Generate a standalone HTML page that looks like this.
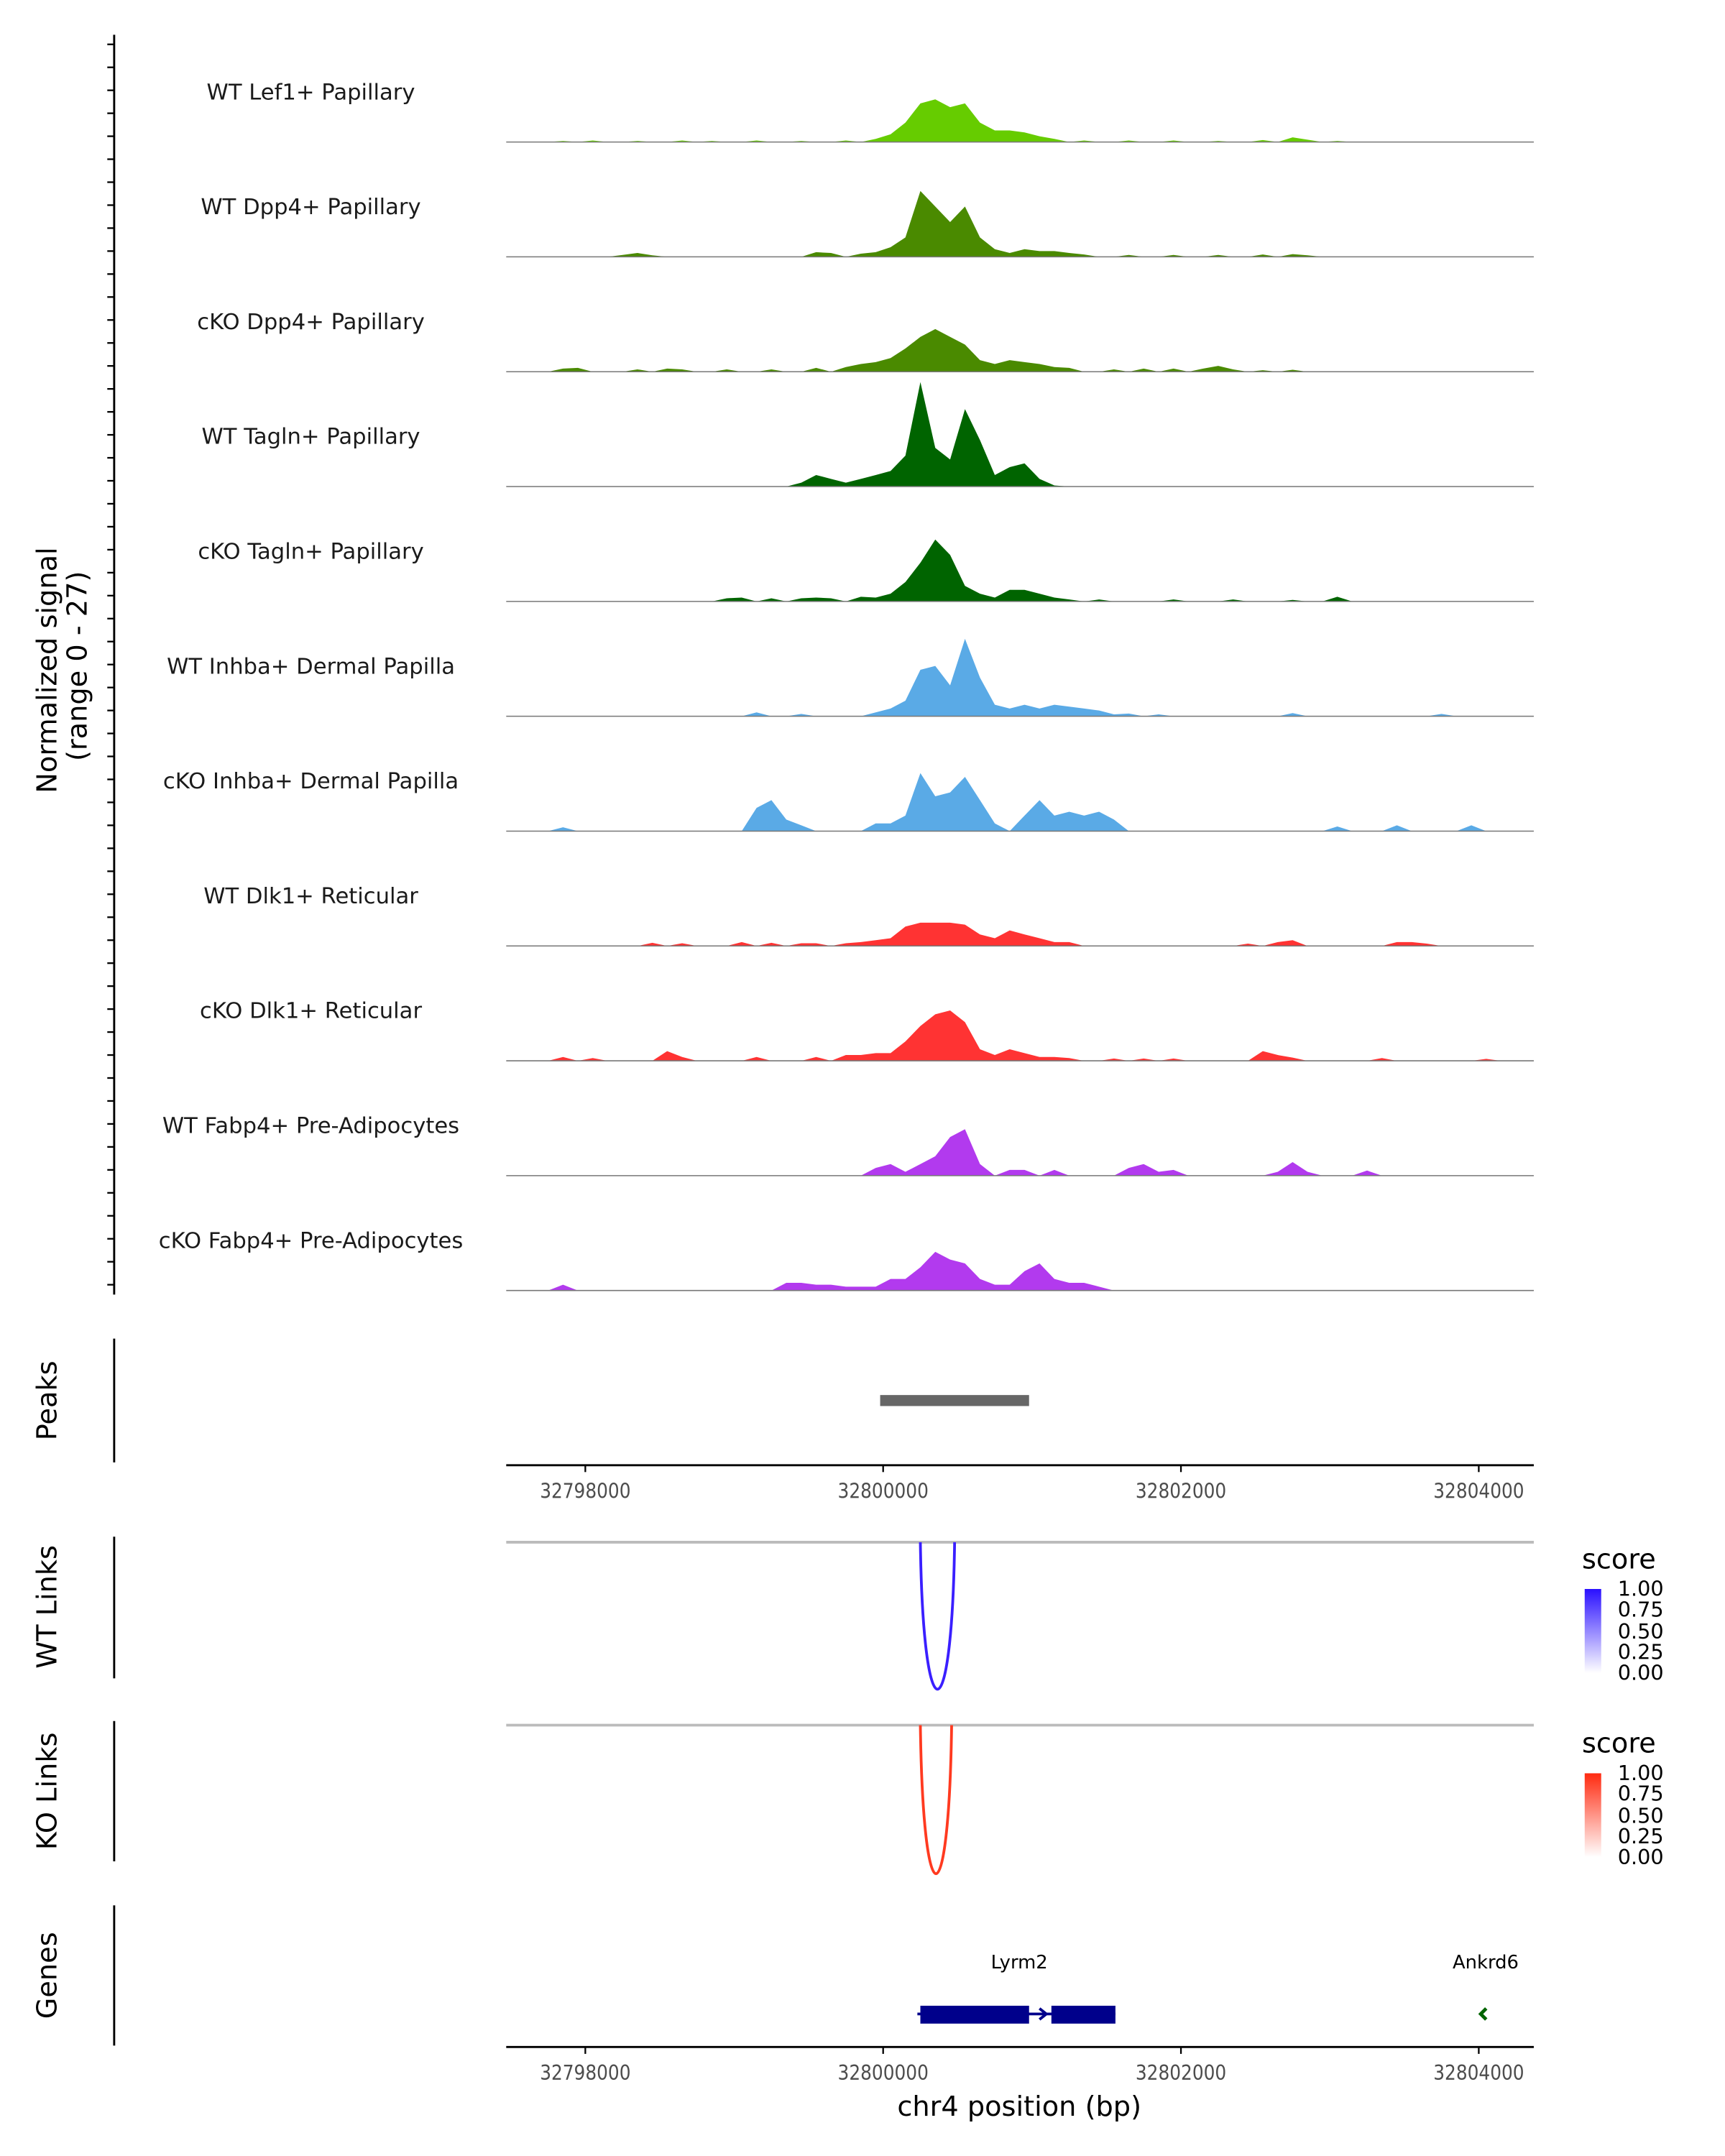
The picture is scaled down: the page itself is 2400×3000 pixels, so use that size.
<!DOCTYPE html>
<html><head><meta charset="utf-8"><style>html,body{margin:0;padding:0;background:#fff}svg{display:block}</style></head>
<body>
<svg id="chart" xmlns="http://www.w3.org/2000/svg" width="2400" height="3000" viewBox="0 0 1254 1567" font-family="'DejaVu Sans','Liberation Sans',sans-serif">
<defs>
<linearGradient id="gb" x1="0" y1="1" x2="0" y2="0"><stop offset="0" stop-color="#ffffff"/><stop offset="1" stop-color="#2a10ff"/></linearGradient>
<linearGradient id="gr" x1="0" y1="1" x2="0" y2="0"><stop offset="0" stop-color="#ffffff"/><stop offset="1" stop-color="#ff2a10"/></linearGradient>
</defs>
<g id="tracks"></g>
<g id="yaxis"><line x1="83" y1="25" x2="83" y2="941" stroke="#000" stroke-width="1.5"/></g>
<text transform="translate(41,487) rotate(-90)" text-anchor="middle" font-size="20">Normalized signal</text>
<text transform="translate(63,484) rotate(-90)" text-anchor="middle" font-size="20">(range 0 - 27)</text>

<line x1="83" y1="973" x2="83" y2="1063" stroke="#000" stroke-width="1.5"/>
<text transform="translate(41,1018) rotate(-90)" text-anchor="middle" font-size="20">Peaks</text>
<g id="peaks"></g>
<g id="xaxis1"></g>

<line x1="83" y1="1117" x2="83" y2="1220" stroke="#000" stroke-width="1.5"/>
<text transform="translate(41,1168) rotate(-90)" text-anchor="middle" font-size="20">WT Links</text>
<line x1="368" y1="1121" x2="1115" y2="1121" stroke="#bbb" stroke-width="2"/>
<g id="wtlinks"></g>
<text x="1150" y="1140" font-size="20">score</text>
<rect x="1152" y="1155" width="12" height="61" fill="url(#gb)"/>
<g font-size="15"><text x="1176" y="1160">1.00</text><text x="1176" y="1175">0.75</text><text x="1176" y="1191">0.50</text><text x="1176" y="1206">0.25</text><text x="1176" y="1221">0.00</text></g>

<line x1="83" y1="1251" x2="83" y2="1353" stroke="#000" stroke-width="1.5"/>
<text transform="translate(41,1302) rotate(-90)" text-anchor="middle" font-size="20">KO Links</text>
<line x1="368" y1="1254" x2="1115" y2="1254" stroke="#bbb" stroke-width="2"/>
<g id="kolinks"></g>
<text x="1150" y="1274" font-size="20">score</text>
<rect x="1152" y="1289" width="12" height="61" fill="url(#gr)"/>
<g font-size="15"><text x="1176" y="1294">1.00</text><text x="1176" y="1309">0.75</text><text x="1176" y="1325">0.50</text><text x="1176" y="1340">0.25</text><text x="1176" y="1355">0.00</text></g>

<line x1="83" y1="1385" x2="83" y2="1487" stroke="#000" stroke-width="1.5"/>
<text transform="translate(41,1436) rotate(-90)" text-anchor="middle" font-size="20">Genes</text>
<g id="genes"></g>
<g id="xaxis2"></g>
<text x="741" y="1538" text-anchor="middle" font-size="20">chr4 position (bp)</text>
</svg>
<script>
const trackNames = ["WT Lef1+ Papillary","WT Dpp4+ Papillary","cKO Dpp4+ Papillary","WT Tagln+ Papillary","cKO Tagln+ Papillary","WT Inhba+ Dermal Papilla","cKO Inhba+ Dermal Papilla","WT Dlk1+ Reticular","cKO Dlk1+ Reticular","WT Fabp4+ Pre-Adipocytes","cKO Fabp4+ Pre-Adipocytes"];
const trackColors = ["#66cc00","#4a8a00","#4a8a00","#006400","#006400","#5aaae6","#5aaae6","#ff3333","#ff3333","#b23aee","#b23aee"];
const binStart = 32797500;
const binSize = 100;
const xTicks = [32798000,32800000,32802000,32804000];
const peakRegions = [[32799980,32800980]];
const wtLinks = [[32800250,32800480,1.0]];
const koLinks = [[32800250,32800460,0.85]];
const geneExons = [[32800250,32800980],[32801130,32801560]];
const geneLine = [32800230,32801560];
const yMax = 27;
const s0 = [[3,.3],[5,.4],[8,.3],[11,.4],[13,.3],[16,.4],[19,.3],[22,.4],[24,.8],[25,2],[26,5],[27,10],[28,11],[29,9],[30,10],[31,5],[32,3],[33,3],[34,2.5],[35,1.5],[36,.8],[38,.4],[41,.4],[44,.4],[47,.3],[50,.5],[52,1.2],[53,.6],[55,.3]];
const s1 = [[7,.5],[8,1],[9,.4],[20,1.2],[21,1],[23,.8],[24,1.2],[25,2.5],[26,5],[27,17],[28,13],[29,9],[30,13],[31,5],[32,2],[33,1],[34,2],[35,1.5],[36,1.5],[37,1],[38,.6],[41,.5],[44,.5],[47,.5],[50,.6],[52,.7],[53,.4]];
const s2 = [[3,.8],[4,1],[8,.6],[10,.8],[11,.6],[14,.6],[17,.6],[20,1],[22,1.2],[23,2],[24,2.5],[25,3.5],[26,6],[27,9],[28,11],[29,9],[30,7],[31,3],[32,2],[33,3],[34,2.5],[35,2],[36,1.2],[37,1],[40,.6],[42,.8],[44,.8],[46,.8],[47,1.5],[48,.6],[50,.4],[52,.5]];
const s3 = [[19,1],[20,3],[21,2],[22,1],[23,2],[24,3],[25,4],[26,8],[27,27],[28,10],[29,7],[30,20],[31,12],[32,3],[33,5],[34,6],[35,2],[36,.3]];
const s4 = [[14,.8],[15,1],[17,.8],[19,.8],[20,1],[21,.8],[23,1.2],[24,1],[25,2],[26,5],[27,10],[28,16],[29,12],[30,4],[31,2],[32,1],[33,3],[34,3],[35,2],[36,1],[37,.5],[39,.5],[44,.5],[48,.5],[52,.4],[55,1.2]];
const s5 = [[16,1],[19,.6],[24,1],[25,2],[26,4],[27,12],[28,13],[29,8],[30,20],[31,10],[32,3],[33,2],[34,3],[35,2],[36,3],[37,2.5],[38,2],[39,1.5],[40,.5],[41,.7],[43,.5],[52,.8],[62,.6]];
const s6 = [[3,1],[16,6],[17,8],[18,3],[19,1.5],[24,2],[25,2],[26,4],[27,15],[28,9],[29,10],[30,14],[31,8],[32,2],[34,4],[35,8],[36,4],[37,5],[38,4],[39,5],[40,3],[55,1.2],[59,1.5],[64,1.5]];
const s7 = [[9,.8],[11,.7],[15,1],[17,.8],[19,.7],[20,.7],[22,.7],[23,1],[24,1.5],[25,2],[26,5],[27,6],[28,6],[29,6],[30,5.5],[31,3],[32,2],[33,4],[34,3],[35,2],[36,1],[37,1],[49,.6],[51,1],[52,1.5],[59,1],[60,1],[61,.6]];
const s8 = [[3,1],[5,.7],[10,2.5],[11,1],[16,1],[20,1],[22,1.5],[23,1.5],[24,2],[25,2],[26,5],[27,9],[28,12],[29,13],[30,10],[31,3],[32,1.5],[33,3],[34,2],[35,1],[36,1],[37,.7],[40,.6],[42,.6],[44,.6],[50,2.5],[51,1.5],[52,.8],[58,.7],[65,.5]];
const s9 = [[24,2],[25,3],[26,1],[27,3],[28,5],[29,10],[30,12],[31,3],[33,1.5],[34,1.5],[36,1.5],[41,2],[42,3],[43,1],[44,1.5],[51,1],[52,3.5],[53,1],[57,1.3]];
const s10 = [[3,1.5],[18,2],[19,2],[20,1.5],[21,1.5],[22,1],[23,1],[24,1],[25,3],[26,3],[27,6],[28,10],[29,8],[30,7],[31,3],[32,1.5],[33,1.5],[34,5],[35,7],[36,3],[37,2],[38,2],[39,1]];
const signals = [s0,s1,s2,s3,s4,s5,s6,s7,s8,s9,s10];

const NS="http://www.w3.org/2000/svg";
const X0=368, X1=1115;
function xs(bp){return 642+(bp-32800000)*0.10825;}
const trackTop=20, trackStep=83.5, trackH=76;
function base(i){return trackTop+83+i*trackStep;}
function ys(v,i){return base(i)-v/yMax*trackH;}
function mk(tag,attrs,parent){const e=document.createElementNS(NS,tag);for(const k in attrs)e.setAttribute(k,attrs[k]);parent.appendChild(e);return e;}

const tg=document.getElementById('tracks');
signals.forEach((sig,i)=>{
  const b=base(i);
  const vals=new Array(70).fill(0);
  sig.forEach(([k,v])=>{vals[k]=v;});
  let d=`M${X0},${b}`;
  for(let k=0;k<70;k++){
    const bp=binStart+k*binSize+binSize/2;
    const x=xs(bp);
    if(x<X0||x>X1)continue;
    d+=` L${x.toFixed(1)},${ys(vals[k],i).toFixed(1)}`;
  }
  d+=` L${X1},${b} Z`;
  const p=mk('path',{d:d,fill:trackColors[i],stroke:'none'},tg);
  
  
  const l=mk('line',{x1:X0,y1:b,x2:X1,y2:b,stroke:'#777','stroke-width':0.8},tg);
  
  
  const t=mk('text',{x:226,y:b-31,'text-anchor':'middle','font-size':16,fill:'#1a1a1a'},tg);
  t.textContent=trackNames[i];
  
  
});
const ya=document.getElementById('yaxis');
for(let y=32;y<=940;y+=16.7){
  const l=mk('line',{x1:78,y1:y,x2:83,y2:y,stroke:'#000','stroke-width':1.2},ya);
  
  
}
const pg=document.getElementById('peaks');
peakRegions.forEach(([a,b2])=>{
  const r=mk('rect',{x:xs(a),y:1014,width:xs(b2)-xs(a),height:8,fill:'#666'},pg);
  
  
});
function xaxis(id,y){
  const g=document.getElementById(id);
  mk('line',{x1:X0,y1:y,x2:X1,y2:y,stroke:'#000','stroke-width':1.5},g);
  xTicks.forEach(t=>{
    mk('line',{x1:xs(t),y1:y,x2:xs(t),y2:y+5,stroke:'#000','stroke-width':1.2},g);
    const tx=mk('text',{x:xs(t),y:y+24,'text-anchor':'middle','font-size':15,fill:'#4d4d4d',textLength:66,lengthAdjust:'spacingAndGlyphs'},g);
    tx.textContent=String(t);
    
    
  });
}
xaxis('xaxis1',1065);
xaxis('xaxis2',1488);
function links(id,arr,y0,y1,col){
  const g=document.getElementById(id);
  arr.forEach(([a,b2,s])=>{
    const xa=xs(a),xb=xs(b2);
    const depth=2*(y1-y0);
    const p=mk('path',{d:`M${xa},${y0} C${xa+2},${y0+depth*0.75} ${xb-2},${y0+depth*0.75} ${xb},${y0}`,fill:'none',stroke:col,'stroke-width':2},g);
    
    
  });
}
links('wtlinks',wtLinks,1121,1216,'#3a1fff');
links('kolinks',koLinks,1254,1350,'#ff3a20');
const gg=document.getElementById('genes');
mk('line',{x1:xs(geneLine[0]),y1:1464,x2:xs(geneLine[1]),y2:1464,stroke:'#00008b','stroke-width':2},gg);
geneExons.forEach(([a,b2])=>{
  const r=mk('rect',{x:xs(a),y:1458,width:xs(b2)-xs(a),height:13,fill:'#00008b'},gg);
  
  
});
mk('path',{d:`M${xs(32801050)},1460 l5,4 l-5,4`,fill:'none',stroke:'#00008b','stroke-width':2},gg);
const gl=mk('text',{x:741,y:1431,'text-anchor':'middle','font-size':13.5},gg);gl.textContent='Lyrm2';


const gl2=mk('text',{x:1080,y:1431,'text-anchor':'middle','font-size':13.5},gg);gl2.textContent='Ankrd6';


mk('path',{d:`M${xs(32804050)},1460 l-4,4 l4,4`,fill:'none',stroke:'#006400','stroke-width':2.5},gg);
</script>
</body></html>
